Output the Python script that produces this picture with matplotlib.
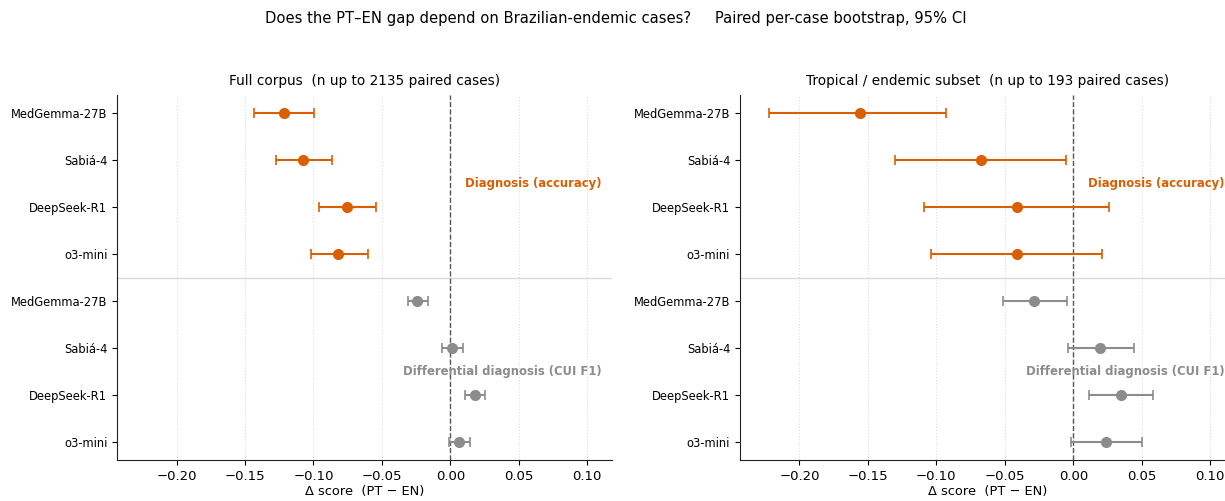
import matplotlib
matplotlib.use("Agg")
import matplotlib.pyplot as plt
import numpy as np

models = ["MedGemma-27B", "Sabiá-4", "DeepSeek-R1", "o3-mini"]
metrics = ["Diagnosis (accuracy)", "Differential diagnosis (CUI F1)"]
metric_colors = ["#D95F02", "#8C8C8C"]

panel_titles = ["Full corpus  (n up to 2135 paired cases)",
                "Tropical / endemic subset  (n up to 193 paired cases)"]

# Full corpus: point estimate, lower CI, upper CI
full_diag_est = [-0.1217, -0.1075, -0.0754, -0.0817]
full_diag_lo = [-0.1435, -0.1275, -0.0959, -0.1017]
full_diag_hi = [-0.0997, -0.0867, -0.0545, -0.0600]
full_cui_est = [-0.0240, 0.0014, 0.0180, 0.0064]
full_cui_lo = [-0.0310, -0.0060, 0.0107, -0.0010]
full_cui_hi = [-0.0160, 0.0093, 0.0255, 0.0145]

# Tropical / endemic subset
trop_diag_est = [-0.1555, -0.0673, -0.0414, -0.0414]
trop_diag_lo = [-0.2225, -0.1299, -0.1087, -0.1037]
trop_diag_hi = [-0.0927, -0.0051, 0.0259, 0.0208]
trop_cui_est = [-0.0285, 0.0194, 0.0349, 0.0239]
trop_cui_lo = [-0.0510, -0.0037, 0.0113, -0.0014]
trop_cui_hi = [-0.0048, 0.0442, 0.0583, 0.0499]

panels = [
    [(full_diag_est, full_diag_lo, full_diag_hi), (full_cui_est, full_cui_lo, full_cui_hi)],
    [(trop_diag_est, trop_diag_lo, trop_diag_hi), (trop_cui_est, trop_cui_lo, trop_cui_hi)],
]

fig = plt.figure(figsize=(12.25, 5.01), dpi=100)
ax_pos = [[0.0955, 0.082, 0.404, 0.728], [0.604, 0.082, 0.404, 0.728]]

fig.suptitle("Does the PT\u2013EN gap depend on Brazilian-endemic cases?     Paired per-case bootstrap, 95% CI",
             fontsize=10.6, y=0.978, x=0.503)

xticks = [-0.20, -0.15, -0.10, -0.05, 0.00, 0.05, 0.10]

for p, (pos, pdata) in enumerate(zip(ax_pos, panels)):
    ax = fig.add_axes(pos)
    ylabels = []
    for m, (est, lo, hi) in enumerate(pdata):
        est = np.array(est); lo = np.array(lo); hi = np.array(hi)
        y = np.arange(len(models)) + m * len(models)
        ax.errorbar(est, y, xerr=[est - lo, hi - est], fmt="o", color=metric_colors[m],
                    ecolor=metric_colors[m], elinewidth=1.5, capsize=3.5, capthick=1.2,
                    markersize=7, zorder=3)
        ylabels += models
        ax.text(0.98, (m * len(models) + 1.5), metrics[m], transform=ax.get_yaxis_transform(),
                ha="right", va="center", color=metric_colors[m], fontweight="bold", fontsize=8.4)
    ax.axvline(0, color="#555555", linestyle="--", linewidth=1.0, zorder=2)
    ax.axhline(3.5, color="#D9D9D9", linewidth=1.0, zorder=1)
    ax.set_yticks(np.arange(len(ylabels)))
    ax.set_yticklabels(ylabels, fontsize=8.3)
    ax.set_ylim(7.37, -0.37)
    ax.set_xlim(-0.2435, 0.118)
    ax.set_xticks(xticks)
    ax.set_xticklabels([f"{t:.2f}".replace("-", "\u2212") for t in xticks], fontsize=9.5)
    ax.grid(axis="x", linestyle=":", color="#DDDDDD", linewidth=0.8)
    ax.set_axisbelow(True)
    for s in ["top", "right"]:
        ax.spines[s].set_visible(False)
    for s in ["left", "bottom"]:
        ax.spines[s].set_color("#222222")
    ax.set_title(panel_titles[p], fontsize=9.8, pad=7)
    ax.set_xlabel("\u0394 score  (PT \u2212 EN)", fontsize=9.4, labelpad=2)

fig.savefig("out.png", dpi=100)
